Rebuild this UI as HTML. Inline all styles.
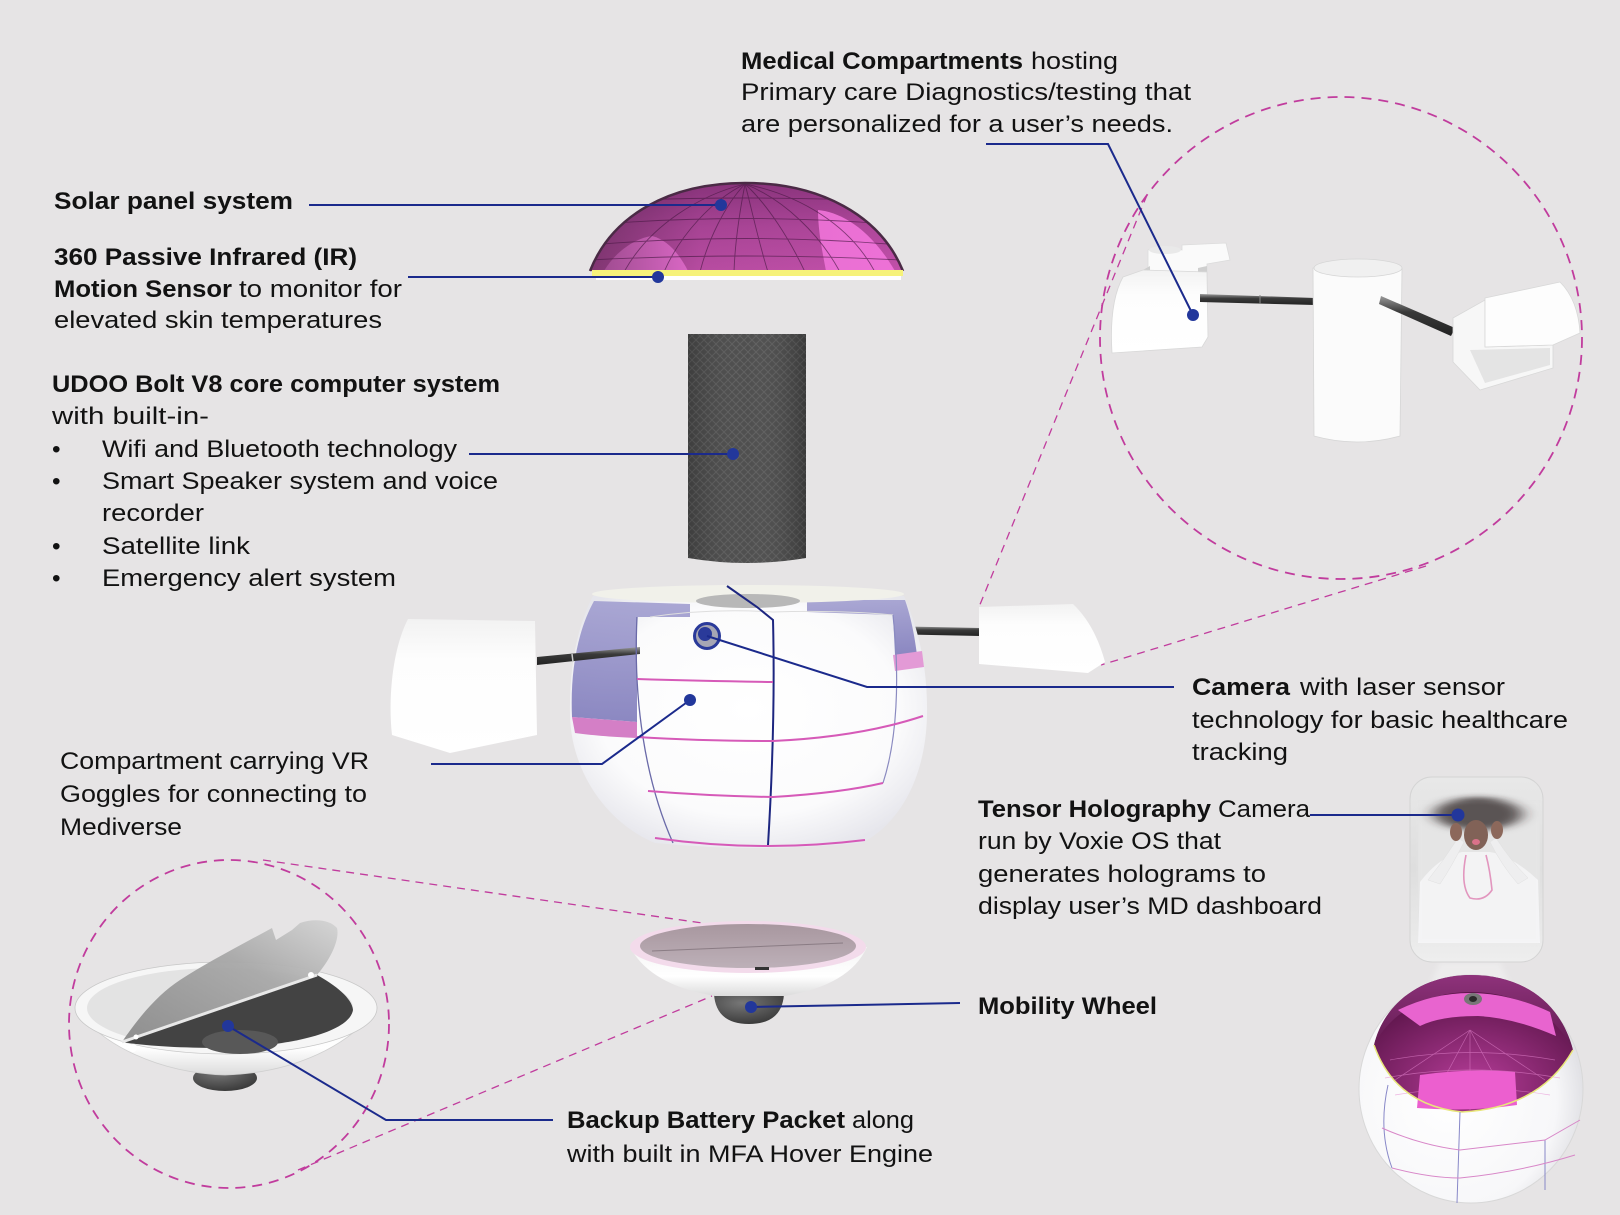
<!DOCTYPE html>
<html><head><meta charset="utf-8"><style>
html,body{margin:0;padding:0;background:#e6e4e5;}
svg{display:block;}
text{font-family:"Liberation Sans",Arial,sans-serif;font-size:24.5px;fill:#121212;}
.b{font-weight:700;}
</style></head><body>
<svg width="1620" height="1215" viewBox="0 0 1620 1215" xmlns="http://www.w3.org/2000/svg">
<defs>
  <clipPath id="domeClip"><path d="M590,271 C612,215 670,183 745,183 C820,183 880,215 903,271 Z"/></clipPath>
  <linearGradient id="domeG" x1="0" y1="0" x2="0" y2="1">
    <stop offset="0" stop-color="#8e3580"/><stop offset="0.5" stop-color="#b0479c"/><stop offset="1" stop-color="#c250aa"/>
  </linearGradient>
  <linearGradient id="domeShade" x1="0" y1="0" x2="1" y2="0">
    <stop offset="0" stop-color="#3a1a35" stop-opacity="0.5"/><stop offset="0.35" stop-color="#3a1a35" stop-opacity="0.08"/><stop offset="1" stop-color="#3a1a35" stop-opacity="0"/>
  </linearGradient>
  <pattern id="mesh" width="8" height="8" patternUnits="userSpaceOnUse">
    <rect width="8" height="8" fill="#484848"/>
    <path d="M0,4 L4,0 L8,4 L4,8 Z" fill="none" stroke="#5a5a5a" stroke-width="1"/>
  </pattern>
  <linearGradient id="cylShade" x1="0" y1="0" x2="1" y2="0">
    <stop offset="0" stop-color="#000" stop-opacity="0.15"/><stop offset="0.5" stop-color="#fff" stop-opacity="0.04"/><stop offset="1" stop-color="#000" stop-opacity="0.2"/>
  </linearGradient>
  <radialGradient id="bodyG" cx="0.5" cy="0.45" r="0.6">
    <stop offset="0" stop-color="#ffffff"/><stop offset="0.7" stop-color="#fbfbfc"/><stop offset="1" stop-color="#e6e6ec"/>
  </radialGradient>
  <linearGradient id="purpleG" x1="0" y1="0" x2="0" y2="1">
    <stop offset="0" stop-color="#a29fd0"/><stop offset="1" stop-color="#7f7bbb"/>
  </linearGradient>
  <linearGradient id="blockG" x1="0" y1="0" x2="0" y2="1">
    <stop offset="0" stop-color="#f2f2f2"/><stop offset="0.3" stop-color="#fdfdfd"/><stop offset="1" stop-color="#ffffff"/>
  </linearGradient>
  <linearGradient id="rodG" x1="0" y1="0" x2="0" y2="1">
    <stop offset="0" stop-color="#9a9a9a"/><stop offset="0.4" stop-color="#3a3a3a"/><stop offset="1" stop-color="#222"/>
  </linearGradient>
  <linearGradient id="discTop" x1="0" y1="0" x2="0" y2="1">
    <stop offset="0" stop-color="#a8979f"/><stop offset="1" stop-color="#bdb0b8"/>
  </linearGradient>
  <linearGradient id="bowlG" x1="0" y1="0" x2="0" y2="1">
    <stop offset="0" stop-color="#f4f4f4"/><stop offset="0.6" stop-color="#ffffff"/><stop offset="1" stop-color="#dcdcdc"/>
  </linearGradient>
  <radialGradient id="wheelG" cx="0.4" cy="0.3" r="0.8">
    <stop offset="0" stop-color="#777"/><stop offset="1" stop-color="#333"/>
  </radialGradient>
  <linearGradient id="flapG" x1="0" y1="1" x2="1" y2="0">
    <stop offset="0" stop-color="#8a8a8a"/><stop offset="0.6" stop-color="#a8a8a8"/><stop offset="1" stop-color="#d4d4d4"/>
  </linearGradient>
  <linearGradient id="cardG" x1="0" y1="0" x2="0" y2="1">
    <stop offset="0" stop-color="#e8e8e8"/><stop offset="0.5" stop-color="#dedede"/><stop offset="1" stop-color="#eeeeee"/>
  </linearGradient>
  <radialGradient id="sphG" cx="0.4" cy="0.55" r="0.6">
    <stop offset="0" stop-color="#ffffff"/><stop offset="0.8" stop-color="#f7f7f9"/><stop offset="1" stop-color="#e2e2e6"/>
  </radialGradient>
  <linearGradient id="sphDome" x1="0" y1="0" x2="0" y2="1">
    <stop offset="0" stop-color="#9c3a88"/><stop offset="1" stop-color="#5e1a4e"/>
  </linearGradient>
  <radialGradient id="sphIn" cx="0.5" cy="0.8" r="0.7">
    <stop offset="0" stop-color="#b53c98"/><stop offset="1" stop-color="#5a1448"/>
  </radialGradient>
  <filter id="blur3" x="-50%" y="-50%" width="200%" height="200%"><feGaussianBlur stdDeviation="3"/></filter>
  <filter id="blur6" x="-50%" y="-50%" width="200%" height="200%"><feGaussianBlur stdDeviation="8 3"/></filter>
  <filter id="blur2" x="-50%" y="-50%" width="200%" height="200%"><feGaussianBlur stdDeviation="1.5"/></filter>
</defs>

<rect x="0" y="0" width="1620" height="1215" fill="#e6e4e5"/>

<!-- ===== Dashed zoom connectors ===== -->
<g stroke="#c13c9d" stroke-width="1.3" fill="none" stroke-dasharray="8 6">
  <line x1="1147" y1="195" x2="979" y2="607"/>
  <line x1="1426" y1="566" x2="1101" y2="665"/>
  <line x1="263" y1="860" x2="709" y2="924"/>
  <line x1="298" y1="1170" x2="712" y2="996"/>
</g>
<g stroke="#c13c9d" stroke-width="1.8" fill="none" stroke-dasharray="10 7">
  <circle cx="1341" cy="338" r="241"/>
  <ellipse cx="229" cy="1024" rx="160" ry="164"/>
</g>

<!-- ===== Solar dome ===== -->
<g>
  <path d="M590,271 C612,215 670,183 745,183 C820,183 880,215 903,271 Z" fill="url(#domeG)"/>
  <g clip-path="url(#domeClip)">
    <path d="M604,271 C615,252 635,238 652,236 C668,240 680,255 688,271 Z" fill="#ef72d8"/>
    <path d="M818,210 C840,212 870,228 895,271 L826,271 C822,250 818,230 818,210 Z" fill="#ef72d8"/>
    <rect x="585" y="180" width="330" height="95" fill="url(#domeShade)"/>
    <g stroke="#4a1a45" stroke-width="0.9" fill="none" opacity="0.65">
      <path d="M745,184 C700,195 650,225 624,272"/>
      <path d="M745,184 C712,200 680,235 664,272"/>
      <path d="M745,184 C725,205 708,240 700,272"/>
      <path d="M745,184 C740,210 735,240 734,272"/>
      <path d="M745,184 C752,210 758,240 768,272"/>
      <path d="M745,184 C768,205 790,240 805,272"/>
      <path d="M745,184 C785,200 820,235 840,272"/>
      <path d="M745,184 C800,195 850,225 875,272"/>
      <path d="M590,225 Q745,212 900,225"/>
      <path d="M590,245 Q745,232 900,245"/>
      <path d="M590,260 Q745,252 900,260"/>
      <path d="M590,202 Q745,194 900,202"/>
    </g>
  </g>
  <path d="M590,271 C612,215 670,183 745,183 C820,183 880,215 903,271" fill="none" stroke="#4a2a45" stroke-width="2.5"/>
  <rect x="592" y="270" width="311" height="6" fill="#f6f27a"/>
  <rect x="596" y="276" width="305" height="4" fill="#ffffff"/>
</g>

<!-- ===== Speaker cylinder ===== -->
<path d="M688,334 L806,334 L806,558 Q747,568 688,558 Z" fill="url(#mesh)"/>
<path d="M688,334 L806,334 L806,558 Q747,568 688,558 Z" fill="url(#cylShade)"/>

<!-- ===== Rods (behind) ===== -->
<path d="M885,626 L980,628 L980,636 L885,634 Z" fill="url(#rodG)"/>

<!-- ===== Main body ===== -->
<path d="M593,596 C578,625 569,665 570,715 C571,770 605,822 655,843 Q760,853 862,843 C905,820 926,770 927,715 C928,665 917,625 904,596 Z" fill="url(#bodyG)"/>
<path d="M594,601 L690,604 L690,617 L637,617 L637,722 L572,717 C570,670 578,630 594,601 Z" fill="url(#purpleG)" opacity="0.9"/>
<path d="M807,600 L905,600 C912,620 915,640 917,655 L895,655 L893,615 L807,612 Z" fill="url(#purpleG)" opacity="0.9"/>
<path d="M572,717 L637,722 L637,738 C610,737 590,735 575,733 Z" fill="#d47fc6"/>
<path d="M893,655 L922,651 L924,667 L895,671 Z" fill="#e39ad6"/>
<ellipse cx="748" cy="594" rx="156" ry="9" fill="#f1f1ea"/>
<ellipse cx="748" cy="601" rx="52" ry="7" fill="#b8b8b8"/>
<path d="M650,617 Q710,608 773,612 Q840,610 893,615" fill="none" stroke="#dedede" stroke-width="1"/>
<path d="M537,657 L640,647 L640,654 L537,665 Z" fill="url(#rodG)"/>
<line x1="572" y1="654" x2="573" y2="662" stroke="#ccc" stroke-width="1.5"/>
<path d="M637,617 C633,700 645,780 673,843" fill="none" stroke="#6a6aa8" stroke-width="1.3"/>
<path d="M893,615 C900,680 897,740 883,783" fill="none" stroke="#8a8ac0" stroke-width="1.2"/>
<path d="M727,586 L757,607 L773,620 C775,700 772,780 768,845" fill="none" stroke="#1d2680" stroke-width="2"/>
<g fill="none" stroke="#d65ab8" stroke-width="2">
  <path d="M637,679 Q700,681 773,682"/>
  <path d="M637,737 Q700,741 773,741 Q860,737 923,716"/>
  <path d="M648,791 Q710,796 773,797 Q840,793 883,783"/>
  <path d="M655,838 Q760,853 865,840"/>
</g>
<circle cx="707" cy="636" r="12.5" fill="#a6a6b4" stroke="#2a3a9a" stroke-width="3"/>
<circle cx="705" cy="634" r="7" fill="#2a3a9a"/>

<!-- ===== Side blocks ===== -->
<path d="M408,619 L535,621 L537,735 L450,753 L392,735 C388,700 392,650 408,619 Z" fill="url(#blockG)"/>
<path d="M979,607 L1073,604 Q1095,625 1105,662 L1088,673 L979,664 Z" fill="url(#blockG)"/>

<!-- ===== Bottom disc + wheel ===== -->
<path d="M714,994 Q716,1024 749,1024 Q782,1024 784,994 Z" fill="url(#wheelG)"/>
<path d="M630,947 Q650,985 715,996 L785,996 Q850,985 867,947 Z" fill="url(#bowlG)"/>
<ellipse cx="748" cy="947" rx="118" ry="26" fill="#f3dbeb"/>
<ellipse cx="748" cy="946" rx="108" ry="22" fill="url(#discTop)"/>
<line x1="652" y1="951" x2="843" y2="943" stroke="#8a7c84" stroke-width="1"/>
<rect x="755" y="967" width="14" height="3" fill="#333"/>

<!-- ===== Medical zoom contents ===== -->
<g>
  <path d="M1148,276 L1148,250 Q1165,244 1182,250 L1182,245 L1226,243 L1230,260 L1207,264 L1207,276 Z" fill="#fafafa" stroke="#dcdcdc" stroke-width="0.8"/>
  <ellipse cx="1165" cy="250" rx="16" ry="4" fill="#e9e9e9"/>
  <path d="M1143,270 L1150,266 L1150,276 L1198,276 L1198,268 L1207,266 L1207,272 Z" fill="#cfcfcf"/>
  <path d="M1123,277 L1143,270 L1207,272 L1208,337 L1202,347 L1112,353 C1110,320 1113,295 1123,277 Z" fill="url(#blockG)" stroke="#d8d8d8" stroke-width="0.8"/>
  <path d="M1200,294 L1315,298 L1315,305 L1200,302 Z" fill="url(#rodG)"/>
  <line x1="1260" y1="295" x2="1260" y2="304" stroke="#888" stroke-width="1"/>
  <path d="M1313,268 L1402,268 L1400,436 Q1357,448 1314,436 Z" fill="#fbfbfb" stroke="#d6d6d6" stroke-width="0.8"/>
  <ellipse cx="1358" cy="268" rx="44" ry="9" fill="#f0f0f0" stroke="#d6d6d6" stroke-width="0.8"/>
  <path d="M1381,296 L1455,328 L1451,336 L1379,304 Z" fill="url(#rodG)"/>
  <path d="M1453,318 L1485,300 L1485,347 L1553,345 L1553,368 L1480,390 L1453,362 Z" fill="#f7f7f7" stroke="#d8d8d8" stroke-width="0.8"/>
  <path d="M1470,350 L1550,348 L1550,365 L1485,383 Z" fill="#e4e4e4"/>
  <path d="M1485,298 L1560,282 Q1578,300 1580,333 L1553,345 L1485,347 Z" fill="#fdfdfd" stroke="#d8d8d8" stroke-width="0.8"/>
</g>

<!-- ===== Hover engine zoom (bottom-left) ===== -->
<g>
  <ellipse cx="225" cy="1078" rx="32" ry="13" fill="url(#wheelG)"/>
  <path d="M76,1008 C100,1045 160,1073 225,1075 C295,1073 350,1045 377,1008 Z" fill="url(#bowlG)" stroke="#cfcfcf" stroke-width="0.8"/>
  <ellipse cx="226" cy="1008" rx="151" ry="46" fill="#f6f6f6" stroke="#c8c8c8" stroke-width="0.8"/>
  <ellipse cx="220" cy="1008" rx="133" ry="40" fill="#e3e3e3"/>
  <path d="M122,1042 L317,975 C335,985 352,998 353,1010 C350,1030 300,1046 220,1048 C180,1048 145,1046 122,1042 Z" fill="#434343"/>
  <ellipse cx="240" cy="1042" rx="38" ry="12" fill="#585858"/>
  <path d="M122,1042 C140,1015 160,993 180,980 C205,964 235,948 272,928 L276,940 L292,930 L300,923 C315,918 330,920 337,928 C340,940 330,960 317,975 Z" fill="url(#flapG)" opacity="0.95"/>
  <line x1="122" y1="1042" x2="317" y2="975" stroke="#e8e8e8" stroke-width="3"/>
  <circle cx="133" cy="1048" r="4" fill="#fff"/>
  <circle cx="136" cy="1037" r="2.5" fill="#fff"/>
  <circle cx="311" cy="975" r="3" fill="#fff"/>
</g>

<!-- ===== Hologram card ===== -->
<g>
  <path d="M1440,962 L1500,962 L1510,985 L1430,985 Z" fill="#f4f4f4" opacity="0.5" filter="url(#blur3)"/>
  <rect x="1410" y="777" width="133" height="185" rx="22" fill="url(#cardG)" stroke="#d4d4d4" stroke-width="1"/>
  <rect x="1418" y="800" width="122" height="143" fill="#e4e4e4"/>
  <ellipse cx="1478" cy="814" rx="44" ry="16" fill="#2a2222" filter="url(#blur6)"/>
  <path d="M1420,882 Q1440,856 1462,852 L1490,852 Q1512,856 1538,880 L1540,943 L1418,943 Z" fill="#f7f7f9"/>
  <path d="M1428,880 Q1444,860 1458,838 L1464,842 Q1452,866 1440,884 Z" fill="#f0f0f2" stroke="#ddd" stroke-width="0.5"/>
  <path d="M1528,878 Q1510,860 1496,838 L1490,842 Q1502,866 1518,884 Z" fill="#f0f0f2" stroke="#ddd" stroke-width="0.5"/>
  <ellipse cx="1476" cy="835" rx="12" ry="15" fill="#5e3526"/>
  <ellipse cx="1456" cy="832" rx="6" ry="9" fill="#6d3d2b"/>
  <ellipse cx="1497" cy="830" rx="6" ry="9" fill="#6d3d2b"/>
  <ellipse cx="1476" cy="842" rx="4" ry="3" fill="#d54a6a"/>
  <path d="M1466,855 Q1460,885 1470,898 Q1484,902 1492,890 Q1490,870 1486,855" fill="none" stroke="#e07ab0" stroke-width="1.6"/>
  <rect x="1418" y="800" width="122" height="143" fill="#e9e9e9" opacity="0.25" filter="url(#blur2)"/>
</g>

<!-- ===== Small sphere (bottom right) ===== -->
<g>
  <ellipse cx="1471" cy="1089" rx="112" ry="114" fill="url(#sphG)" stroke="#d8d8d8" stroke-width="1"/>
  <path d="M1374,1045 C1385,1000 1425,975 1471,975 C1520,975 1560,1000 1573,1050 Q1540,1108 1462,1112 Q1395,1105 1374,1045 Z" fill="url(#sphIn)"/>
  <path d="M1374,1045 C1385,1000 1425,975 1471,975 C1520,975 1560,1000 1573,1050 C1555,1012 1515,992 1471,992 C1430,992 1392,1010 1374,1045 Z" fill="url(#sphDome)" opacity="0.8"/>
  <g stroke="#e584cf" stroke-width="0.7" fill="none" opacity="0.6">
    <path d="M1470,1030 L1470,1110"/><path d="M1470,1030 L1430,1105"/><path d="M1470,1030 L1510,1105"/>
    <path d="M1470,1030 L1395,1080"/><path d="M1470,1030 L1545,1080"/>
    <path d="M1390,1060 Q1470,1045 1555,1060"/><path d="M1385,1078 Q1470,1062 1560,1078"/><path d="M1395,1095 Q1470,1082 1550,1095"/>
  </g>
  <path d="M1398,1010 Q1470,975 1550,1012 L1556,1036 Q1515,1018 1478,1016 Q1440,1016 1420,1026 Z" fill="#e864cf"/>
  <path d="M1420,1075 Q1470,1068 1515,1072 L1517,1105 Q1470,1112 1417,1108 Z" fill="#ec5fcf"/>
  <ellipse cx="1473" cy="999" rx="9" ry="6" fill="#777"/>
  <ellipse cx="1473" cy="999" rx="4" ry="3" fill="#2a2a2a"/>
  <path d="M1374,1045 Q1395,1105 1462,1112 Q1540,1108 1573,1050" fill="none" stroke="#e8e67a" stroke-width="1.5"/>
  <g fill="none" stroke-width="1">
    <path d="M1460,1112 L1457,1203" stroke="#8888c8"/>
    <path d="M1388,1085 Q1378,1130 1392,1168" stroke="#8888c8"/>
    <path d="M1545,1140 L1545,1190" stroke="#8888c8"/>
    <path d="M1382,1128 Q1420,1145 1460,1150 L1545,1140 L1580,1120" stroke="#d887c8"/>
    <path d="M1392,1168 Q1430,1178 1460,1178 Q1520,1172 1575,1155" stroke="#d887c8"/>
  </g>
</g>

<!-- ===== Navy leader lines ===== -->
<g stroke="#1b2a8c" stroke-width="2" fill="none">
  <line x1="309" y1="205" x2="721" y2="205"/>
  <line x1="408" y1="277" x2="658" y2="277"/>
  <line x1="469" y1="454" x2="733" y2="454"/>
  <polyline points="986,144 1108,144 1193,315"/>
  <polyline points="707,636 867,687 1174,687"/>
  <polyline points="690,700 602,764 431,764"/>
  <line x1="1310" y1="815" x2="1458" y2="815"/>
  <line x1="751" y1="1007" x2="960" y2="1003"/>
  <polyline points="228,1026 386,1120 553,1120"/>
</g>
<g fill="#22379b">
  <circle cx="721" cy="205" r="6"/>
  <circle cx="658" cy="277" r="6"/>
  <circle cx="733" cy="454" r="6"/>
  <circle cx="1193" cy="315" r="6"/>
  <circle cx="690" cy="700" r="6"/>
  <circle cx="1458" cy="815" r="6.5"/>
  <circle cx="751" cy="1007" r="6"/>
  <circle cx="228" cy="1026" r="6"/>
</g>

<!-- ===== Text ===== -->
<text class="b" x="741" y="69" textLength="282" lengthAdjust="spacingAndGlyphs">Medical Compartments</text>
<text x="1031" y="69" textLength="87" lengthAdjust="spacingAndGlyphs">hosting</text>
<text x="741" y="100" textLength="450" lengthAdjust="spacingAndGlyphs">Primary care Diagnostics/testing that</text>
<text x="741" y="132" textLength="432" lengthAdjust="spacingAndGlyphs">are personalized for a user’s needs.</text>

<text class="b" x="54" y="209" textLength="239" lengthAdjust="spacingAndGlyphs">Solar panel system</text>
<text class="b" x="54" y="265" textLength="303" lengthAdjust="spacingAndGlyphs">360 Passive Infrared (IR)</text>
<text class="b" x="54" y="297" textLength="178" lengthAdjust="spacingAndGlyphs">Motion Sensor</text>
<text x="239" y="297" textLength="163" lengthAdjust="spacingAndGlyphs">to monitor for</text>
<text x="54" y="328" textLength="328" lengthAdjust="spacingAndGlyphs">elevated skin temperatures</text>

<text class="b" x="52" y="392" textLength="448" lengthAdjust="spacingAndGlyphs">UDOO Bolt V8 core computer system</text>
<text x="52" y="424" textLength="157" lengthAdjust="spacingAndGlyphs">with built-in-</text>
<text x="52" y="457">•</text>
<text x="102" y="457" textLength="355" lengthAdjust="spacingAndGlyphs">Wifi and Bluetooth technology</text>
<text x="52" y="489">•</text>
<text x="102" y="489" textLength="396" lengthAdjust="spacingAndGlyphs">Smart Speaker system and voice</text>
<text x="102" y="521" textLength="102" lengthAdjust="spacingAndGlyphs">recorder</text>
<text x="52" y="554">•</text>
<text x="102" y="554" textLength="148" lengthAdjust="spacingAndGlyphs">Satellite link</text>
<text x="52" y="586">•</text>
<text x="102" y="586" textLength="294" lengthAdjust="spacingAndGlyphs">Emergency alert system</text>

<text x="60" y="769" textLength="309" lengthAdjust="spacingAndGlyphs">Compartment carrying VR</text>
<text x="60" y="802" textLength="307" lengthAdjust="spacingAndGlyphs">Goggles for connecting to</text>
<text x="60" y="835" textLength="122" lengthAdjust="spacingAndGlyphs">Mediverse</text>

<text class="b" x="1192" y="695" textLength="98" lengthAdjust="spacingAndGlyphs">Camera</text>
<text x="1300" y="695" textLength="205" lengthAdjust="spacingAndGlyphs">with laser sensor</text>
<text x="1192" y="728" textLength="376" lengthAdjust="spacingAndGlyphs">technology for basic healthcare</text>
<text x="1192" y="760" textLength="96" lengthAdjust="spacingAndGlyphs">tracking</text>

<text class="b" x="978" y="817" textLength="233" lengthAdjust="spacingAndGlyphs">Tensor Holography</text>
<text x="1218" y="817" textLength="92" lengthAdjust="spacingAndGlyphs">Camera</text>
<text x="978" y="849" textLength="243" lengthAdjust="spacingAndGlyphs">run by Voxie OS that</text>
<text x="978" y="882" textLength="288" lengthAdjust="spacingAndGlyphs">generates holograms to</text>
<text x="978" y="914" textLength="344" lengthAdjust="spacingAndGlyphs">display user’s MD dashboard</text>

<text class="b" x="978" y="1014" textLength="179" lengthAdjust="spacingAndGlyphs">Mobility Wheel</text>

<text class="b" x="567" y="1128" textLength="278" lengthAdjust="spacingAndGlyphs">Backup Battery Packet</text>
<text x="852" y="1128" textLength="62" lengthAdjust="spacingAndGlyphs">along</text>
<text x="567" y="1162" textLength="366" lengthAdjust="spacingAndGlyphs">with built in MFA Hover Engine</text>
</svg>
</body></html>
